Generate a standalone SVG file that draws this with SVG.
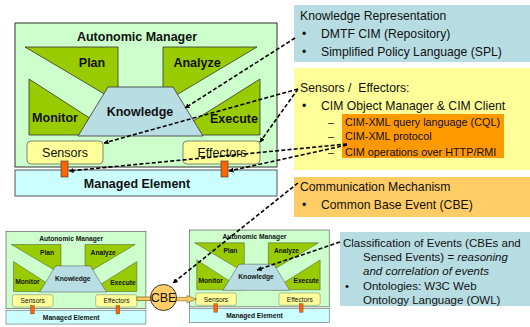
<svg xmlns="http://www.w3.org/2000/svg" xmlns:xlink="http://www.w3.org/1999/xlink" width="530" height="327" viewBox="0 0 530 327">
<style>
text{font-family:"Liberation Sans",Arial,sans-serif;fill:#111}
.b{font-weight:bold;font-size:12.5px;text-anchor:middle}
.n{font-size:12.5px;text-anchor:middle}
.sh{fill:#99cc00;stroke:#333;stroke-width:0.8}
.t{font-size:12.2px}
.o{font-size:10.8px}
.c{font-size:11.5px}
.dash{fill:none;stroke:#000;stroke-width:1.6;stroke-dasharray:4 2.2;marker-end:url(#ah)}
</style>
<defs>
<marker id="ah" viewBox="0 0 10 10" refX="9" refY="5" markerWidth="5" markerHeight="5" orient="auto" markerUnits="userSpaceOnUse">
<path d="M0,0 L10,5 L0,10 z" fill="#000"/>
</marker>
<g id="amModule">
<rect x="0" y="0" width="262" height="144" fill="#ccffcc" stroke="#333" stroke-width="1"/>
<text x="122" y="17.5" class="b">Autonomic Manager</text>
<polygon points="10,24 103,24 103,79" class="sh"/>
<polygon points="148,24 242,24 148,80" class="sh"/>
<polygon points="14,56 14,112 101,112" class="sh"/>
<polygon points="245,56 245,112 156,112" class="sh"/>
<polygon points="93,64 158,64 188,113 63,113" fill="#b8dde3" stroke="#333" stroke-width="0.8"/>
<text x="77" y="43.5" class="b">Plan</text>
<text x="182" y="43.5" class="b">Analyze</text>
<text x="40" y="98.5" class="b">Monitor</text>
<text x="219" y="99.5" class="b">Execute</text>
<text x="125" y="92.5" class="b">Knowledge</text>
<rect x="12" y="118" width="76" height="23" rx="4" fill="#ffff99" stroke="#666" stroke-width="0.8"/>
<rect x="168" y="118" width="77" height="23" rx="4" fill="#ffff99" stroke="#666" stroke-width="0.8"/>
<text x="50" y="134" class="n">Sensors</text>
<text x="207" y="134" class="n">Effectors</text>
<rect x="0" y="147" width="262" height="26" fill="#ccffff" stroke="#555" stroke-width="1"/>
<text x="122" y="165" class="b">Managed Element</text>
<rect x="46" y="138" width="7" height="16" fill="#ff6600" stroke="#333" stroke-width="0.6"/>
<rect x="206" y="138" width="7" height="16" fill="#ff6600" stroke="#333" stroke-width="0.6"/>
</g>
</defs>

<g id="am-main"><use xlink:href="#amModule" transform="translate(15,23)"/></g>
<g id="am-small-left"><use xlink:href="#amModule" transform="translate(6,231.7) scale(0.534)"/></g>
<g id="am-small-right"><use xlink:href="#amModule" transform="translate(189.3,230) scale(0.534)"/></g>

<g id="knowledge-representation">
<rect x="294" y="5" width="236" height="57" fill="#b7dde3"/>
<text x="300" y="19.5" class="t">Knowledge Representation</text>
<text x="302" y="37.5" class="t">•</text>
<text x="321" y="37.5" class="t">DMTF CIM (Repository)</text>
<text x="302" y="55.5" class="t">•</text>
<text x="321" y="55.5" class="t">Simplified Policy Language (SPL)</text>
</g>

<g id="sensors-effectors">
<rect x="294" y="68" width="236" height="102" fill="#ffff99"/>
<text x="300" y="91.5" class="t">Sensors /&#160; Effectors:</text>
<text x="302" y="109.5" class="t">•</text>
<text x="321" y="109.5" class="t">CIM Object Manager &amp; CIM Client</text>
<rect x="342" y="114" width="162" height="44" fill="#ff9900"/>
<text x="328" y="125.5" class="o">–</text>
<text x="345" y="125.5" class="o">CIM-XML query language (CQL)</text>
<text x="328" y="140" class="o">–</text>
<text x="345" y="140" class="o">CIM-XML protocol</text>
<text x="328" y="155.5" class="o">–</text>
<text x="345" y="155.5" class="o">CIM operations over HTTP/RMI</text>
</g>

<g id="communication-mechanism">
<rect x="294" y="177" width="236" height="40" fill="#ffcc66"/>
<text x="300" y="190.5" class="t">Communication Mechanism</text>
<text x="302" y="208.5" class="t">•</text>
<text x="321" y="208.5" class="t">Common Base Event (CBE)</text>
</g>

<g id="classification">
<rect x="340" y="232" width="190" height="74" fill="#b7dde3"/>
<text x="343" y="247" class="c">Classification of Events (CBEs and</text>
<text x="363" y="261" class="c">Sensed Events) = <tspan font-style="italic">reasoning</tspan></text>
<text x="363" y="274.5" class="c" font-style="italic">and correlation of events</text>
<text x="345" y="290" class="c">•</text>
<text x="363" y="290" class="c">Ontologies: W3C Web</text>
<text x="363" y="303.5" class="c">Ontology Language (OWL)</text>
</g>

<g id="cbe">
<rect x="137" y="297" width="14" height="3.5" fill="#ffcc66" stroke="#7a5c00" stroke-width="0.7"/>
<polygon points="176,297.4 187,297.4 187,295.6 196.5,299.2 187,302.6 187,300.8 176,300.8" fill="#ffcc66" stroke="#7a5c00" stroke-width="0.6"/>
<circle cx="163.5" cy="297.5" r="13" fill="#ffcc66" stroke="#333" stroke-width="1"/>
<text x="163.5" y="302" class="n" font-size="13px">CBE</text>
</g>

<g id="connectors">
<line x1="295" y1="38" x2="185" y2="108" class="dash"/>
<line x1="298" y1="89" x2="104" y2="143" class="dash"/>
<line x1="298" y1="89" x2="260" y2="142" class="dash"/>
<line x1="347" y1="144" x2="69" y2="171" class="dash"/>
<line x1="347" y1="145" x2="229" y2="171" class="dash"/>
<line x1="298" y1="183" x2="173" y2="283" class="dash"/>
<line x1="340" y1="242" x2="257" y2="270" class="dash"/>
</g>
</svg>
